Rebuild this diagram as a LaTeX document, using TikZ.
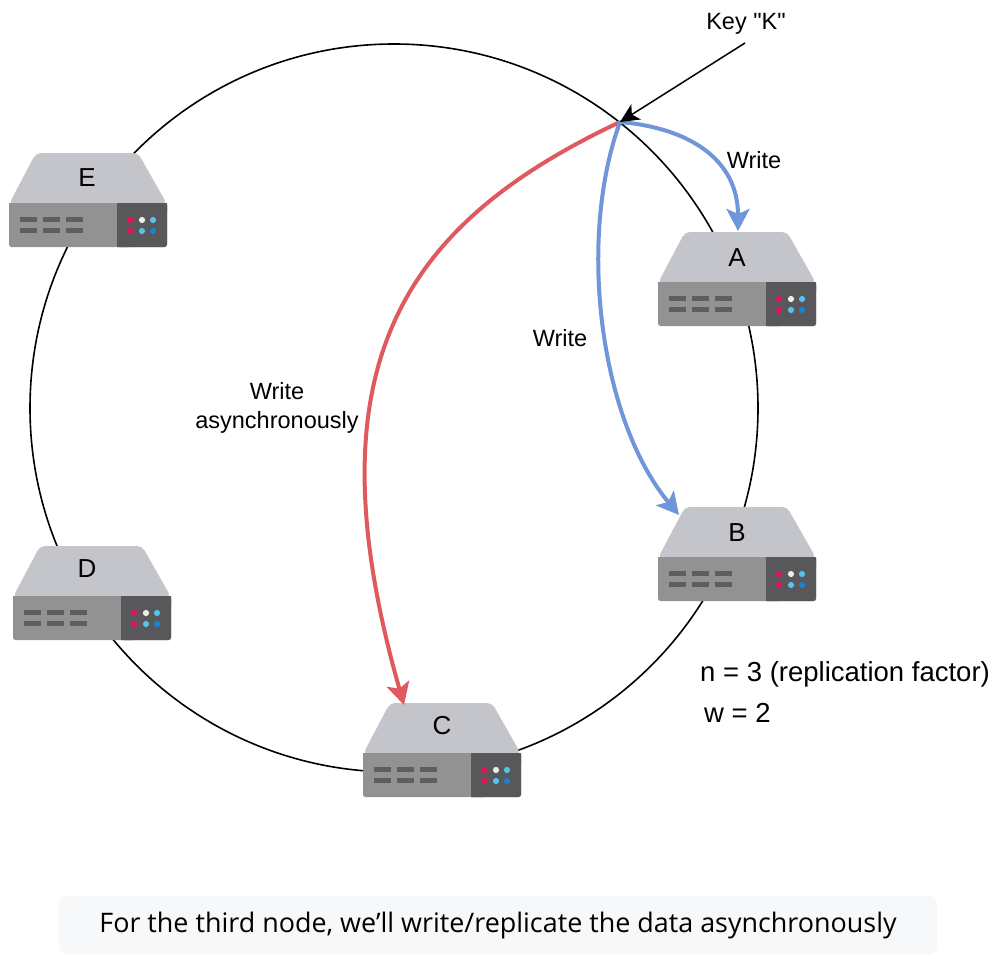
\documentclass[tikz,border=0pt]{standalone}
\usepackage{fontspec}
\setmainfont{Liberation Sans}
\newfontfamily\plainfont{Liberation Sans}
\newfontfamily\capfont{Open Sans}
\usetikzlibrary{arrows.meta}
\definecolor{srvtop}{HTML}{C4C5CA}
\definecolor{srvfront}{HTML}{929292}
\definecolor{srvpanel}{HTML}{58585A}
\definecolor{srvvent}{HTML}{5E5E60}
\definecolor{dotpink}{HTML}{E8125C}
\definecolor{dotwhite}{HTML}{EDEDED}
\definecolor{dotsky}{HTML}{55C4E8}
\definecolor{dotblue}{HTML}{1A82D0}
\definecolor{wblue}{HTML}{6F96D8}
\definecolor{wred}{HTML}{DF5A5E}
\definecolor{capbg}{HTML}{F7F8FA}
\tikzset{
  x=1pt,y=-1pt,
  label text/.style={font=\fontsize{23.5}{29}\selectfont,text=black,inner sep=0pt,align=center},
  big letter/.style={font=\fontsize{26}{30}\selectfont,text=black,inner sep=0pt},
  ring/.style={draw=black,line width=1.6pt},
  keyarrow/.style={draw=black,line width=1.5pt,-{Stealth[length=19pt,width=18pt,inset=5pt]}},
  bluearrow/.style={draw=wblue,line width=4pt,-{Stealth[length=22pt,width=23pt,inset=5pt]}},
  redarrow/.style={draw=wred,line width=4pt,-{Stealth[length=22pt,width=23pt,inset=5pt]}},
  server/.pic={
    \fill[srvtop,rounded corners=5pt] (0,51) -- (27,0) -- (129,0) -- (158,51) -- cycle;
    \fill[srvtop] (0,50) rectangle (158,52);
    \fill[srvfront,rounded corners=2.5pt] (0,50) rectangle (158,94);
    \fill[srvfront] (0,50) rectangle (158,60);
    \fill[srvpanel,rounded corners=2.5pt] (108,50) rectangle (158,94);
    \fill[srvpanel] (108,50) rectangle (120,94) (108,50) rectangle (158,60);
    \foreach \vx in {11,34,56.5}{\foreach \vy in {64,75}{
      \fill[srvvent] (\vx,\vy) rectangle +(17,5);}}
    \fill[dotpink] (121,67) circle[radius=3.1];
    \fill[dotwhite] (133,67) circle[radius=3.1];
    \fill[dotsky] (144,67) circle[radius=3.1];
    \fill[dotpink] (121,78) circle[radius=3.1];
    \fill[dotsky] (133,78) circle[radius=3.1];
    \fill[dotblue] (144,78) circle[radius=3.1];
  }
}
\begin{document}
\begin{tikzpicture}
\useasboundingbox (0,0) rectangle (1000,958);
\fill[white] (0,0) rectangle (1000,958);
\node[ring,circle,minimum size=728pt,inner sep=0pt] (ringnode) at (394,408) {};
\pic at (658,232) {server};
\pic at (658,507) {server};
\pic at (363,703) {server};
\pic at (13,546) {server};
\pic at (9,153) {server};
\node[big letter] (A) at (737,258) {A};
\node[big letter] (B) at (737,533) {B};
\node[big letter] (C) at (442,726) {C};
\node[big letter] (D) at (87,569) {D};
\node[big letter] (E) at (87,178) {E};
\coordinate (hit) at (620,122);
\coordinate (atA) at (738,231);
\coordinate (atB) at (679,515);
\coordinate (atC) at (404,705);
\node[label text] (keyK) at (746,24) {\plainfont Key "K"};
\coordinate (keytail) at (745,43);
\draw[redarrow] (hit) .. controls (401,225) and (308,368) .. (atC);
\draw[bluearrow] (hit) .. controls (577,240) and (600,420) .. (atB);
\draw[bluearrow] (hit) .. controls (690,128) and (738,160) .. (atA);
\draw[keyarrow] (keytail) -- (hit);
\node[label text] (w1) at (754,160) {Write};
\node[label text] (w2) at (560,338) {Write};
\node[label text] (w3) at (277,408) {Write\\asynchronously};
\node[label text,anchor=west,font=\fontsize{27.5}{32}\selectfont] (n) at (700,674) {n = 3 (replication factor)};
\node[label text,anchor=west,font=\fontsize{27.5}{32}\selectfont] (w) at (704,713) {w = 2};
\node[fill=capbg,rounded corners=8pt,minimum width=878pt,minimum height=58pt,inner sep=0pt] (capbox) at (498,925) {};
\node[font=\capfont\fontsize{26.9}{30}\selectfont,inner sep=0pt] (cap) at (498,925) {For the third node, we’ll write/replicate the data asynchronously};
\end{tikzpicture}
\end{document}
